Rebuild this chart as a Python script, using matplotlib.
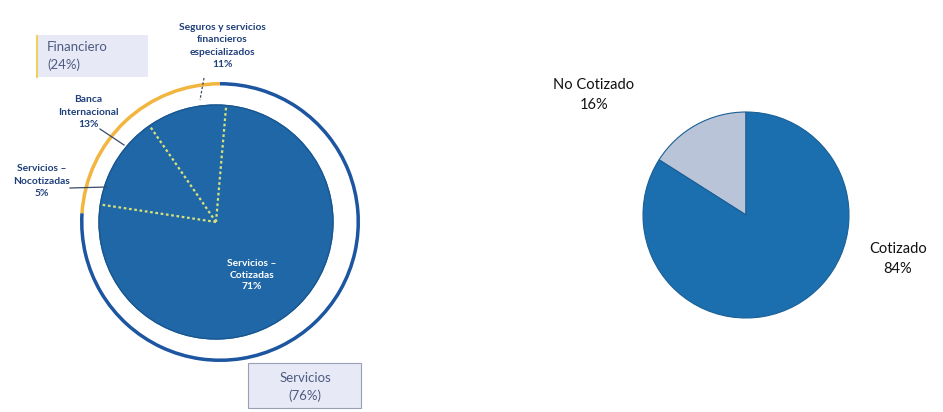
import matplotlib
matplotlib.use("Agg")
import matplotlib.pyplot as plt
import numpy as np
from matplotlib.patches import Rectangle, Circle

plt.rcParams['font.family'] = ['Lato', 'DejaVu Sans']

# ---- data ----
outer_labels = ["Financiero\n(24%)", "Servicios\n(76%)"]
outer_values = [24, 76]
inner_labels = ["Seguros y servicios\nfinancieros\nespecializados\n11%",
                "Banca\nInternacional\n13%",
                "Servicios –\nNocotizadas\n5%",
                "Servicios –\nCotizadas\n71%"]
inner_values = [11, 13, 5, 71]
right_labels = ["No Cotizado\n16%", "Cotizado\n84%"]
right_values = [16, 84]

W, H = 943, 412
fig = plt.figure(figsize=(W / 100, H / 100), dpi=100)
ax = fig.add_axes([0, 0, 1, 1])

def P(x, y):
    return (x, H - y)

BLUE = '#1f67a6'
RING_BLUE = '#1c55a0'
ORANGE = '#f2b640'
DARK = '#1f3f7a'

# ---- left: outer ring ----
cx, cy = P(220, 222)
ax.pie(outer_values, colors=[ORANGE, RING_BLUE], radius=140, center=(cx, cy),
       startangle=90, counterclock=True, frame=True,
       wedgeprops=dict(width=3.5, linewidth=0))

# ---- left: inner pie ----
icx, icy = P(216, 222)
r_in = 117
wedges, _ = ax.pie(inner_values, colors=[BLUE] * 4, radius=r_in, center=(icx, icy),
                   startangle=85, counterclock=True, frame=True,
                   wedgeprops=dict(linewidth=0.8, edgecolor=BLUE))
ax.add_patch(Circle((icx, icy), r_in, facecolor='none', edgecolor='#1a5690', lw=1.0, zorder=4))
for w in wedges[:3]:
    th = np.deg2rad(w.theta1)
    ax.plot([icx, icx + r_in * np.cos(th)], [icy, icy + r_in * np.sin(th)],
            color='#d9e27a', lw=1.6, ls=(0, (1.2, 1.2)), zorder=5)

# inner labels
lab_kw = dict(ha='center', va='center', fontsize=7.4, fontweight='bold',
              color=DARK, linespacing=1.5)
ax.text(*P(222, 46), inner_labels[0], **lab_kw)
ax.text(*P(88, 112), inner_labels[1], **lab_kw)
ax.text(*P(42, 181), inner_labels[2], **lab_kw)
ax.text(*P(252, 275), inner_labels[3], ha='center', va='center', fontsize=7.4,
        fontweight='bold', color='white', linespacing=1.35, zorder=6)

# leader lines
line_kw = dict(color='#3a4a6a', lw=0.9)
ax.plot(*zip(P(204, 78), P(200, 100)), ls=(0, (2, 1.5)), **line_kw)
ax.plot(*zip(P(100, 129), P(124, 145)), **line_kw)
ax.plot(*zip(P(70, 188), P(107, 187)), **line_kw)

# boxes
BOX_FILL = '#e7e9f7'
TXT = '#4d5b80'
ax.add_patch(Rectangle(P(37, 77), 111, 42, facecolor=BOX_FILL, edgecolor='none', zorder=3))
ax.plot(*zip(P(37, 36), P(37, 77)), color='#f0d060', lw=1.5, zorder=4)
ax.text(*P(47, 56), outer_labels[0], ha='left', va='center', fontsize=9.5,
        color=TXT, linespacing=1.45, zorder=5)
ax.add_patch(Rectangle(P(248, 408), 113, 45, facecolor=BOX_FILL, edgecolor='#9aa0b4',
                       lw=0.8, zorder=3))
ax.text(*P(305, 387), outer_labels[1], ha='center', va='center', fontsize=9.5,
        color=TXT, linespacing=1.45, zorder=5)

# ---- right pie ----
rcx, rcy = P(746, 215)
ax.pie(right_values, colors=['#b9c4d8', '#1b6fae'], radius=103, center=(rcx, rcy),
       startangle=90, counterclock=True, frame=True,
       wedgeprops=dict(linewidth=0.8, edgecolor='#1a5f95'))

ax.text(*P(594, 95), right_labels[0], ha='center', va='center', fontsize=10.5,
        color='#111111', linespacing=1.5)
ax.text(*P(898, 259), right_labels[1], ha='center', va='center', fontsize=10.5,
        color='#111111', linespacing=1.5)

ax.set_xlim(0, W)
ax.set_ylim(0, H)
ax.set_aspect('equal')
ax.axis('off')

fig.savefig('out.png', dpi=100)
